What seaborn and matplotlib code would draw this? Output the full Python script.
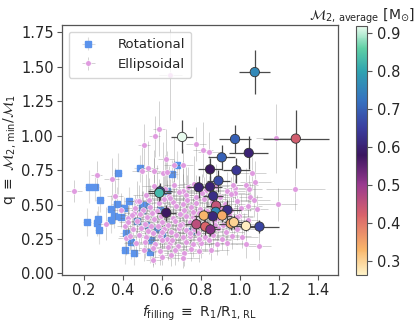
import matplotlib
matplotlib.use("Agg")
import matplotlib.pyplot as plt
import seaborn as sns
import numpy as np
import pandas as pd
from matplotlib.colors import LinearSegmentedColormap, Normalize

# Rotational variables (blue squares)
rot_x = [0.374, 0.487, 0.224, 0.258, 0.282, 0.368, 0.433, 0.407, 0.497, 0.518,
         0.340, 0.496, 0.388, 0.270, 0.337, 0.217, 0.267, 0.277, 0.415, 0.441,
         0.410, 0.458, 0.540, 0.573, 0.592, 0.546, 0.679, 0.650, 0.626, 0.751,
         0.354, 0.520, 0.470, 0.600]
rot_y = [0.726, 0.762, 0.628, 0.628, 0.534, 0.507, 0.524, 0.476, 0.495, 0.500,
         0.468, 0.463, 0.410, 0.396, 0.391, 0.374, 0.364, 0.316, 0.290, 0.227,
         0.172, 0.152, 0.159, 0.324, 0.463, 0.246, 0.787, 0.722, 0.599, 0.311,
         0.420, 0.350, 0.380, 0.280]
rot_xerr = [0.02, 0.03, 0.02, 0.02, 0.02, 0.03, 0.03, 0.02, 0.03, 0.02,
            0.02, 0.03, 0.02, 0.02, 0.02, 0.02, 0.02, 0.02, 0.03, 0.03,
            0.02, 0.03, 0.03, 0.03, 0.03, 0.03, 0.04, 0.03, 0.03, 0.04,
            0.02, 0.03, 0.03, 0.03]
rot_yerr = [0.15, 0.10, 0.12, 0.10, 0.09, 0.12, 0.10, 0.08, 0.10, 0.09,
            0.10, 0.09, 0.08, 0.09, 0.10, 0.10, 0.09, 0.10, 0.09, 0.12,
            0.10, 0.09, 0.08, 0.10, 0.10, 0.09, 0.10, 0.10, 0.08, 0.08,
            0.09, 0.09, 0.10, 0.09]

# Ellipsoidal variables (pink dots): outliers then the dense cloud
ell_x = [0.643, 0.585, 0.562, 0.508, 0.150, 0.265, 0.342, 0.359, 0.311, 1.183,
         1.282, 1.193, 1.077, 1.097, 1.029, 0.556, 0.774, 0.810, 0.842, 0.709,
         0.619, 0.662, 0.530, 0.496, 0.559, 0.605, 0.627, 1.063, 1.029, 1.044,
         1.053, 1.072, 1.041, 1.084, 1.039, 0.995, 0.973, 0.974, 0.472, 0.458,
         0.388, 0.426, 0.409, 0.414,
         0.56, 0.615, 0.66, 0.705, 0.735, 0.765, 0.825, 0.875, 0.935, 0.965,
         0.52, 0.575, 0.635, 0.685, 0.725, 0.775, 0.805, 0.845, 0.895, 0.955,
         0.48, 0.535, 0.585, 0.612, 0.655, 0.705, 0.728, 0.772, 0.815, 0.858, 0.925, 0.985,
         0.462, 0.505, 0.538, 0.572, 0.628, 0.672, 0.712, 0.748, 0.795, 0.832, 0.905, 0.955, 1.005,
         0.445, 0.488, 0.522, 0.548, 0.595, 0.655, 0.692, 0.722, 0.758, 0.792, 0.838, 0.885, 0.945, 0.985,
         0.428, 0.472, 0.512, 0.558, 0.602, 0.632, 0.668, 0.702, 0.742, 0.768, 0.812, 0.868, 0.912, 0.968, 1.022,
         0.452, 0.492, 0.528, 0.582, 0.612, 0.648, 0.688, 0.724, 0.762, 0.798, 0.842, 0.888, 0.928, 0.982,
         0.438, 0.482, 0.518, 0.552, 0.592, 0.628, 0.672, 0.708, 0.742, 0.782, 0.822, 0.862, 0.908, 0.958, 1.012,
         0.468, 0.512, 0.562, 0.598, 0.642, 0.682, 0.722, 0.758, 0.802, 0.842, 0.882, 0.932,
         0.508, 0.552, 0.588, 0.632, 0.668, 0.712, 0.748, 0.792, 0.852,
         0.602, 0.648, 0.708,
         0.545, 0.600, 0.650, 0.690, 0.745, 0.790, 0.830, 0.870, 0.760, 0.640]
ell_y = [1.441, 1.050, 0.994, 0.932, 0.599, 0.714, 0.686, 0.565, 0.362, 0.980,
         0.611, 0.502, 0.666, 0.200, 0.215, 0.099, 0.939, 0.898, 0.879, 0.784,
         0.830, 0.789, 0.763, 0.743, 0.743, 0.731, 0.736, 0.727, 0.642, 0.611,
         0.553, 0.533, 0.488, 0.468, 0.386, 0.420, 0.623, 0.584, 0.524, 0.439,
         0.463, 0.400, 0.343, 0.256,
         0.635, 0.612, 0.645, 0.598, 0.624, 0.652, 0.608, 0.632, 0.596, 0.641,
         0.572, 0.584, 0.561, 0.593, 0.571, 0.552, 0.582, 0.566, 0.558, 0.579,
         0.522, 0.534, 0.508, 0.543, 0.521, 0.502, 0.531, 0.512, 0.539, 0.518, 0.503, 0.528,
         0.472, 0.458, 0.484, 0.452, 0.471, 0.489, 0.462, 0.481, 0.468, 0.451, 0.478, 0.461, 0.473,
         0.421, 0.432, 0.408, 0.441, 0.418, 0.402, 0.429, 0.419, 0.408, 0.438, 0.421, 0.401, 0.428, 0.412,
         0.372, 0.383, 0.362, 0.392, 0.371, 0.352, 0.381, 0.362, 0.372, 0.391, 0.361, 0.382, 0.352, 0.371, 0.362,
         0.322, 0.332, 0.311, 0.341, 0.322, 0.302, 0.331, 0.312, 0.321, 0.342, 0.311, 0.331, 0.302, 0.322,
         0.272, 0.281, 0.262, 0.291, 0.271, 0.252, 0.282, 0.261, 0.272, 0.291, 0.262, 0.281, 0.252, 0.271, 0.262,
         0.222, 0.231, 0.212, 0.241, 0.222, 0.202, 0.231, 0.212, 0.222, 0.241, 0.212, 0.221,
         0.172, 0.182, 0.162, 0.191, 0.171, 0.152, 0.181, 0.162, 0.171,
         0.122, 0.131, 0.112,
         0.345, 0.298, 0.246, 0.352, 0.296, 0.248, 0.452, 0.352, 0.448, 0.545]
ell_xerr = [0.06, 0.03, 0.03, 0.03, 0.04, 0.03, 0.04, 0.04, 0.04, 0.10,
            0.15, 0.10, 0.08, 0.06, 0.05, 0.04, 0.05, 0.05, 0.06, 0.05,
            0.04, 0.05, 0.05, 0.05, 0.04, 0.05, 0.05, 0.07, 0.06, 0.07,
            0.06, 0.08, 0.07, 0.06, 0.05, 0.07, 0.06, 0.05, 0.04, 0.05,
            0.04, 0.04, 0.04, 0.04,
            0.06, 0.08, 0.05, 0.09, 0.06, 0.08, 0.10, 0.07, 0.09, 0.08,
            0.07, 0.06, 0.09, 0.08, 0.10, 0.07, 0.09, 0.11, 0.08, 0.10,
            0.06, 0.08, 0.07, 0.09, 0.10, 0.08, 0.11, 0.09, 0.12, 0.08, 0.10, 0.09,
            0.05, 0.07, 0.06, 0.09, 0.08, 0.10, 0.09, 0.12, 0.10, 0.11, 0.09, 0.10, 0.08,
            0.06, 0.05, 0.08, 0.07, 0.09, 0.10, 0.08, 0.12, 0.10, 0.09, 0.11, 0.10, 0.09, 0.08,
            0.05, 0.06, 0.07, 0.09, 0.08, 0.10, 0.11, 0.09, 0.12, 0.10, 0.11, 0.10, 0.12, 0.09, 0.08,
            0.05, 0.07, 0.08, 0.09, 0.10, 0.08, 0.12, 0.10, 0.11, 0.13, 0.10, 0.12, 0.09, 0.10,
            0.06, 0.05, 0.08, 0.07, 0.09, 0.10, 0.11, 0.09, 0.12, 0.10, 0.11, 0.13, 0.09, 0.10, 0.08,
            0.06, 0.07, 0.08, 0.09, 0.10, 0.09, 0.11, 0.10, 0.12, 0.11, 0.10, 0.09,
            0.06, 0.07, 0.08, 0.09, 0.08, 0.10, 0.09, 0.10, 0.09,
            0.06, 0.07, 0.08,
            0.08, 0.09, 0.10, 0.11, 0.12, 0.10, 0.09, 0.11, 0.12, 0.10]
ell_yerr = [0.33, 0.20, 0.15, 0.15, 0.08, 0.10, 0.15, 0.20, 0.12, 0.25,
            0.15, 0.12, 0.15, 0.10, 0.10, 0.05, 0.12, 0.20, 0.15, 0.12,
            0.22, 0.20, 0.20, 0.18, 0.15, 0.22, 0.15, 0.12, 0.12, 0.10,
            0.10, 0.12, 0.10, 0.10, 0.08, 0.10, 0.12, 0.10, 0.15, 0.10,
            0.12, 0.10, 0.10, 0.12,
            0.20, 0.25, 0.18, 0.22, 0.15, 0.20, 0.18, 0.16, 0.14, 0.12,
            0.15, 0.20, 0.22, 0.18, 0.20, 0.16, 0.14, 0.18, 0.15, 0.12,
            0.12, 0.16, 0.18, 0.20, 0.15, 0.22, 0.18, 0.14, 0.16, 0.13, 0.12, 0.10,
            0.10, 0.14, 0.16, 0.15, 0.18, 0.14, 0.20, 0.16, 0.12, 0.14, 0.10, 0.11, 0.10,
            0.10, 0.12, 0.14, 0.16, 0.13, 0.15, 0.18, 0.12, 0.14, 0.11, 0.13, 0.10, 0.12, 0.09,
            0.12, 0.10, 0.13, 0.15, 0.12, 0.14, 0.16, 0.11, 0.13, 0.12, 0.10, 0.12, 0.09, 0.10, 0.08,
            0.12, 0.11, 0.13, 0.10, 0.14, 0.12, 0.11, 0.13, 0.10, 0.12, 0.11, 0.09, 0.10, 0.08,
            0.10, 0.12, 0.11, 0.13, 0.10, 0.12, 0.11, 0.10, 0.12, 0.09, 0.10, 0.11, 0.08, 0.09, 0.08,
            0.10, 0.12, 0.14, 0.10, 0.12, 0.11, 0.10, 0.09, 0.11, 0.10, 0.08, 0.09,
            0.08, 0.12, 0.10, 0.09, 0.11, 0.10, 0.09, 0.08, 0.07,
            0.06, 0.08, 0.07,
            0.12, 0.10, 0.11, 0.13, 0.10, 0.09, 0.12, 0.10, 0.11, 0.14]

# Systems with mass estimates (colour coded big circles)
mass_x = [1.075, 0.703, 0.974, 1.285, 0.906, 1.044, 0.846, 0.981, 0.889, 0.788,
          0.846, 0.862, 0.590, 0.586, 0.622, 0.877, 0.875, 0.935, 0.814, 0.908,
          0.860, 0.776, 0.822, 0.848, 0.952, 0.968, 1.030, 1.099]
mass_y = [1.460, 0.990, 0.975, 0.978, 0.842, 0.874, 0.755, 0.748, 0.673, 0.625,
          0.630, 0.562, 0.595, 0.584, 0.440, 0.492, 0.447, 0.461, 0.420, 0.420,
          0.415, 0.357, 0.340, 0.319, 0.362, 0.372, 0.345, 0.340]
mass_xerr = [0.08, 0.055, 0.08, 0.17, 0.07, 0.10, 0.06, 0.07, 0.06, 0.06,
             0.06, 0.05, 0.06, 0.06, 0.05, 0.05, 0.05, 0.07, 0.05, 0.05,
             0.05, 0.06, 0.06, 0.05, 0.06, 0.05, 0.06, 0.10]
mass_yerr = [0.16, 0.12, 0.10, 0.21, 0.09, 0.12, 0.08, 0.09, 0.08, 0.08,
             0.08, 0.07, 0.06, 0.06, 0.06, 0.06, 0.06, 0.07, 0.05, 0.05,
             0.06, 0.06, 0.06, 0.05, 0.05, 0.05, 0.04, 0.05]
mass_m2 = [0.76, 0.92, 0.70, 0.43, 0.70, 0.60, 0.58, 0.64, 0.67, 0.60,
           0.60, 0.62, 0.66, 0.83, 0.58, 0.45, 0.76, 0.62, 0.33, 0.34,
           0.61, 0.46, 0.42, 0.52, 0.35, 0.30, 0.27, 0.66]

cmap = LinearSegmentedColormap.from_list("m2", [
    (0.00, "#fff3c8"), (0.10, "#f9b66a"), (0.24, "#d9636b"), (0.36, "#9a3a8f"),
    (0.48, "#3b1660"), (0.59, "#3a3d9e"), (0.70, "#3671c0"), (0.82, "#2fa3b0"),
    (0.91, "#5fcfa5"), (1.00, "#e8fbee")])
norm = Normalize(vmin=0.263, vmax=0.92)

sns.set_style("ticks")
plt.rcParams["font.family"] = ["DejaVu Sans"]
plt.rcParams["mathtext.fontset"] = "dejavusans"

fig = plt.figure(figsize=(4.16, 3.23), dpi=100)
ax = fig.add_axes([0.149, 0.149, 0.663, 0.773])
cax = fig.add_axes([0.856, 0.149, 0.027, 0.771])

ax.errorbar(rot_x, rot_y, xerr=rot_xerr, yerr=rot_yerr, fmt="s", color="#5b93ec",
            markersize=4, ecolor=(0.6, 0.6, 0.6, 0.35), elinewidth=0.8,
            label="Rotational", zorder=2)
ax.errorbar(ell_x, ell_y, xerr=ell_xerr, yerr=ell_yerr, fmt="o", color="#e09be0",
            markersize=4, mec="white", mew=0.4, ecolor=(0.45, 0.45, 0.45, 0.32),
            elinewidth=0.7, label="Ellipsoidal", zorder=3)

ax.errorbar(mass_x, mass_y, xerr=mass_xerr, yerr=mass_yerr, fmt="none",
            ecolor="#4a4a4a", elinewidth=0.9, zorder=4)
df = pd.DataFrame({"x": mass_x, "y": mass_y, "m2": mass_m2})
sns.scatterplot(data=df, x="x", y="y", hue="m2", palette=cmap, hue_norm=norm,
                s=45, edgecolor="#333333", linewidth=0.6, legend=False, ax=ax, zorder=5)

ax.set_xlim(0.088, 1.5)
ax.set_ylim(-0.01, 1.8)
ax.set_xticks([0.2, 0.4, 0.6, 0.8, 1.0, 1.2, 1.4])
ax.set_yticks([0.0, 0.25, 0.5, 0.75, 1.0, 1.25, 1.5, 1.75])
ax.tick_params(labelsize=10.5, length=3.5, width=0.8, color="#555555", pad=2.5)
for sp in ax.spines.values():
    sp.set_color("#555555")
    sp.set_linewidth(0.9)
ax.set_xlabel(r"$f_{\rm filling}$ $\equiv$ R$_1$/R$_{1,\,\rm RL}$", fontsize=10)
ax.set_ylabel(r"q $\equiv$ $\mathcal{M}_{2,\,\rm min}/\mathcal{M}_1$", fontsize=10,
              labelpad=2)

leg = ax.legend(loc="upper left", fontsize=9.5, frameon=True, framealpha=0.8,
                edgecolor="#cccccc", borderpad=0.5, handletextpad=1.2)

sm = plt.cm.ScalarMappable(cmap=cmap, norm=norm)
cb = fig.colorbar(sm, cax=cax)
cb.set_ticks([0.3, 0.4, 0.5, 0.6, 0.7, 0.8, 0.9])
cb.ax.tick_params(labelsize=10.5, length=3.5, color="#555555")
cb.outline.set_edgecolor("#555555")
cb.ax.set_title(r"$\mathcal{M}_{2,\,\rm average}$ [M$_{\odot}$]", fontsize=10, pad=4)

fig.savefig("out.png", dpi=100)
